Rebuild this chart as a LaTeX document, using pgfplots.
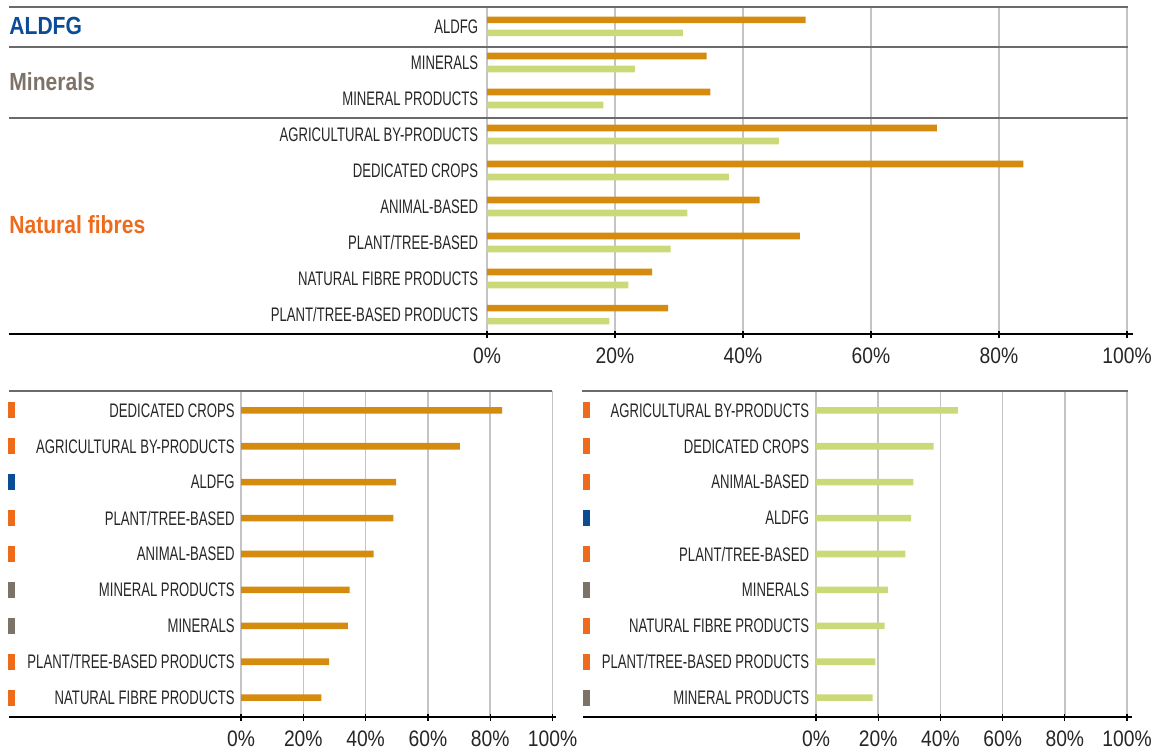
\documentclass[border=0pt]{standalone}
\usepackage{fontspec}
\setmainfont{Liberation Sans}
\newfontfamily\catfont{Liberation Sans}[FakeStretch=0.67]
\newfontfamily\numfont{Liberation Sans}[FakeStretch=0.86]
\newfontfamily\grpfont{Liberation Sans}[FakeStretch=0.85]
\usepackage{pgfplots}
\usepackage{pgfplotstable}
\pgfplotsset{compat=1.18}

\definecolor{barO}{HTML}{D48B0E}
\definecolor{barG}{HTML}{CCD978}
\definecolor{grpA}{HTML}{0B4C97}
\definecolor{grpM}{HTML}{7D7268}
\definecolor{grpN}{HTML}{EE6B1C}
\definecolor{gridc}{HTML}{C4C4C4}
\definecolor{rulec}{HTML}{6A6A6A}

% top panel, rows numbered from the bottom (0) to the top (8)
\pgfplotstableread[col sep=comma]{
i,cat,o,g
8,ALDFG,49.8,30.6
7,MINERALS,34.3,23.1
6,MINERAL PRODUCTS,34.9,18.2
5,AGRICULTURAL BY-PRODUCTS,70.3,45.6
4,DEDICATED CROPS,83.8,37.8
3,ANIMAL-BASED,42.6,31.3
2,PLANT/TREE-BASED,48.9,28.7
1,NATURAL FIBRE PRODUCTS,25.8,22.1
0,PLANT/TREE-BASED PRODUCTS,28.3,19.1
}\toptab

% lower left, sorted by the orange series
\pgfplotstableread[col sep=comma]{
i,v
8,83.8
7,70.3
6,49.8
5,48.9
4,42.6
3,34.9
2,34.3
1,28.3
0,25.8
}\lefttab

% lower right, sorted by the green series
\pgfplotstableread[col sep=comma]{
i,v
8,45.6
7,37.8
6,31.3
5,30.6
4,28.7
3,23.1
2,22.1
1,19.1
0,18.2
}\righttab

\pgfplotsset{
  panel/.style={
    scale only axis,
    xmin=0, xmax=100,
    ymin=-0.54, ymax=8.54,
    axis line style={draw=none},
    xtick={0,20,...,100},
    xticklabels={0\%,20\%,40\%,60\%,80\%,100\%},
    xtick pos=left,
    ytick={0,...,8},
    ytick style={draw=none},
    xtick style={black, line width=0.6pt},
    major tick length=3.5pt,
    tick align=center,
    xmajorgrids,
    grid style={gridc, line width=0.75pt},
    yticklabel style={font=\catfont\fontsize{9.8}{10}\selectfont, black!85, inner xsep=0pt},
    xticklabel style={font=\numfont\fontsize{11.2}{12}\selectfont, black!85, inner sep=0pt, yshift=-5pt},
    clip=false,
  },
  obar/.style={xbar, bar width=3.3pt, fill=barO, draw=none},
  gbar/.style={xbar, bar width=3.3pt, fill=barG, draw=none},
}

\newcommand\tag[2]{\fill[#1] (axis cs:0,#2) ++(-116.5pt,-4pt) rectangle ++(3.5pt,8pt);}

\begin{document}
\begin{tikzpicture}
\path[use as bounding box] (0,0) rectangle (579.5pt,-377pt);

% ---------- top panel ----------
\begin{axis}[panel,
    at={(243.5pt,-167pt)}, anchor=south west,
    width=320pt, height=163.5pt,
    yticklabel style={xshift=-2.5pt},
    yticklabels={PLANT/TREE-BASED PRODUCTS,NATURAL FIBRE PRODUCTS,PLANT/TREE-BASED,ANIMAL-BASED,DEDICATED CROPS,AGRICULTURAL BY-PRODUCTS,MINERAL PRODUCTS,MINERALS,ALDFG},
  ]
  \addplot[obar, bar shift=3.25pt] table[x=o, y=i] {\toptab};
  \addplot[gbar, bar shift=-3.25pt] table[x=g, y=i] {\toptab};
\end{axis}

\draw[rulec, line width=1pt] (4.5pt,-3.5pt) -- (564pt,-3.5pt);
\draw[rulec, line width=1pt] (4.5pt,-23.5pt) -- (564pt,-23.5pt);
\draw[rulec, line width=1pt] (4.5pt,-59pt) -- (564pt,-59pt);
\draw[black, line width=0.75pt] (4.5pt,-167pt) -- (566.5pt,-167pt);

\begin{scope}[font=\grpfont\bfseries\fontsize{12.4}{13}\selectfont]
  \node[anchor=west, inner sep=0pt, grpA] at (4.5pt,-13pt) {ALDFG};
  \node[anchor=west, inner sep=0pt, grpM] at (4.5pt,-41pt) {Minerals};
  \node[anchor=west, inner sep=0pt, grpN] at (4.5pt,-112.5pt) {Natural fibres};
\end{scope}

% ---------- lower left ----------
\begin{axis}[panel,
    at={(120.5pt,-358.5pt)}, anchor=south west,
    width=155.75pt, height=163pt,
    yticklabel style={xshift=-1.2pt},
    yticklabels={NATURAL FIBRE PRODUCTS,PLANT/TREE-BASED PRODUCTS,MINERALS,MINERAL PRODUCTS,ANIMAL-BASED,PLANT/TREE-BASED,ALDFG,AGRICULTURAL BY-PRODUCTS,DEDICATED CROPS},
  ]
  \addplot[obar, bar shift=0pt] table[x=v, y=i] {\lefttab};
  \tag{grpN}{8}\tag{grpN}{7}\tag{grpA}{6}\tag{grpN}{5}\tag{grpN}{4}
  \tag{grpM}{3}\tag{grpM}{2}\tag{grpN}{1}\tag{grpN}{0}
\end{axis}
\draw[rulec, line width=1pt] (4.5pt,-195.5pt) -- (276pt,-195.5pt);
\draw[black, line width=0.75pt] (4.5pt,-358.5pt) -- (278pt,-358.5pt);

% ---------- lower right ----------
\begin{axis}[panel,
    at={(408pt,-358.5pt)}, anchor=south west,
    width=155.5pt, height=163pt,
    yticklabel style={xshift=-1.5pt},
    yticklabels={MINERAL PRODUCTS,PLANT/TREE-BASED PRODUCTS,NATURAL FIBRE PRODUCTS,MINERALS,PLANT/TREE-BASED,ALDFG,ANIMAL-BASED,DEDICATED CROPS,AGRICULTURAL BY-PRODUCTS},
  ]
  \addplot[gbar, bar shift=0pt] table[x=v, y=i] {\righttab};
  \tag{grpN}{8}\tag{grpN}{7}\tag{grpN}{6}\tag{grpA}{5}\tag{grpN}{4}
  \tag{grpM}{3}\tag{grpN}{2}\tag{grpN}{1}\tag{grpM}{0}
\end{axis}
\draw[rulec, line width=1pt] (291pt,-195.5pt) -- (564pt,-195.5pt);
\draw[black, line width=0.75pt] (291.5pt,-358.5pt) -- (566pt,-358.5pt);
\end{tikzpicture}
\end{document}
